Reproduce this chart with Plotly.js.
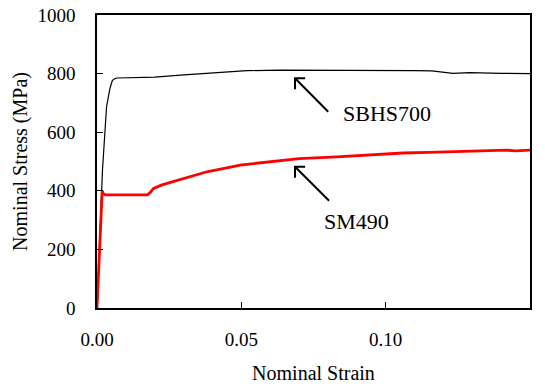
<!DOCTYPE html>
<html>
<head>
<meta charset="utf-8">
<script src="https://cdn.plot.ly/plotly-3.0.1.min.js"></script>
<style>html,body{margin:0;padding:0;background:#fff;}#chart{width:545px;height:387px;}</style>
</head>
<body>
<div id="chart"></div>
<script>
// SBHS700 steel
const sbhsStrain = [0, 0.0014, 0.0019, 0.0033, 0.0045, 0.0053, 0.0062, 0.007, 0.012, 0.02, 0.0289, 0.0358, 0.045, 0.0519, 0.0634, 0.07, 0.08, 0.09, 0.10, 0.105, 0.11, 0.116, 0.12, 0.1233, 0.129, 0.135, 0.14, 0.15];
const sbhsStress = [0, 402, 471, 686, 750, 776, 783, 785, 786, 788, 795, 799, 805, 810, 812, 812, 812, 812, 811, 811, 810, 809, 805, 801, 803, 801, 801, 800];
// SM490 steel
const smStrain = [0, 0.0005, 0.0012, 0.0018, 0.0022, 0.003, 0.008, 0.012, 0.0175, 0.0185, 0.0196, 0.0225, 0.0265, 0.032, 0.0381, 0.0496, 0.0599, 0.0623, 0.07, 0.083, 0.095, 0.106, 0.115, 0.1233, 0.13, 0.1418, 0.145, 0.15];
const smStress = [0, 120, 290, 400, 390, 386, 386, 386, 386, 395, 408, 420, 431, 448, 465, 488, 499, 503, 510, 516, 523, 529, 531, 533, 535, 539, 536, 539];

const xTicks = [0, 0.05, 0.10, 0.15];
const xTickText = ['0.00', '0.05', '0.10', '0.15'];
const yTicks = [0, 200, 400, 600, 800, 1000];
const yTickText = ['0', '200', '400', '600', '800', '1000'];

const labels = ['SBHS700', 'SM490'];

const serif = 'Liberation Serif, DejaVu Serif, serif';

// annotation arrow geometry (layout decoration)
const arrows = [
  {tail: [0.0801, 670], head: [0.0686, 784], text: [0.1006, 664]},
  {tail: [0.0804, 366], head: [0.0686, 482], text: [0.0898, 294]}
];
const wingDx = 0.0035, wingDy = 37.5;

const shapes = [];
const annotations = [];
arrows.forEach((a, i) => {
  shapes.push({type: 'path', xref: 'x', yref: 'y',
    path: `M${a.tail[0]},${a.tail[1]} L${a.head[0]},${a.head[1]} M${a.head[0]},${a.head[1]-wingDy} L${a.head[0]},${a.head[1]} L${a.head[0]+wingDx},${a.head[1]}`,
    line: {color: '#000', width: 2}});
  annotations.push({x: a.text[0], y: a.text[1], xref: 'x', yref: 'y', text: labels[i], showarrow: false,
    font: {family: serif, size: 22, color: '#000'}});
});

const traces = [
  {x: sbhsStrain, y: sbhsStress, mode: 'lines', name: labels[0], line: {color: '#000', width: 1.2}},
  {x: smStrain, y: smStress, mode: 'lines', name: labels[1], line: {color: '#ff0000', width: 2.8}}
];

const layout = {
  width: 545, height: 387,
  margin: {l: 97, r: 15, t: 15, b: 79},
  paper_bgcolor: '#fff', plot_bgcolor: '#fff',
  showlegend: false,
  font: {family: serif, color: '#000'},
  xaxis: {
    range: [0, 0.15], tickvals: xTicks, ticktext: xTickText,
    ticks: 'inside', ticklen: 6, tickwidth: 1, tickcolor: '#000',
    showline: true, linecolor: '#000', linewidth: 1.6, mirror: true,
    showgrid: false, zeroline: false,
    tickfont: {family: serif, size: 19, color: '#000'},
    ticklabelstandoff: 14,
    title: {text: 'Nominal Strain', font: {family: serif, size: 20, color: '#000'}, standoff: 16}
  },
  yaxis: {
    range: [0, 1000], tickvals: yTicks, ticktext: yTickText,
    ticks: 'inside', ticklen: 6, tickwidth: 1, tickcolor: '#000',
    showline: true, linecolor: '#000', linewidth: 1.6, mirror: true,
    showgrid: false, zeroline: false,
    tickfont: {family: serif, size: 19, color: '#000'},
    ticklabelstandoff: 16,
    title: {text: 'Nominal Stress (MPa)', font: {family: serif, size: 20, color: '#000'}, standoff: 4}
  },
  shapes: shapes,
  annotations: annotations
};

Plotly.newPlot('chart', traces, layout, {staticPlot: true, displayModeBar: false});
</script>
</body>
</html>
